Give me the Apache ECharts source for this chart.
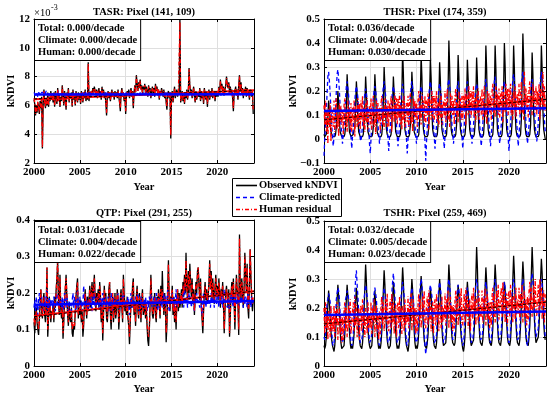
<!DOCTYPE html>
<html><head><meta charset="utf-8">
<script src="https://cdn.jsdelivr.net/npm/echarts@6/dist/echarts.min.js"></script>
<style>html,body{margin:0;padding:0;background:#fff}#c{width:550px;height:397px}</style>
</head><body><div id="c"></div><script>
// ---------- data (monthly, Jan 2000 .. Dec 2023) ----------
const startYear = 2000, endYear = 2024;
const xTicks = [2000, 2005, 2010, 2015, 2020];
const panelNames = ['TASR: Pixel (141, 109)', 'THSR: Pixel (174, 359)', 'QTP: Pixel (291, 255)', 'TSHR: Pixel (259, 469)'];
const seriesNames = ['Observed kNDVI', 'Climate-predicted', 'Human residual'];
const totalRates = ['0.000', '0.036', '0.031', '0.032'];
const climateRates = ['0.000', '0.004', '0.004', '0.005'];
const humanRates = ['0.000', '0.030', '0.022', '0.023'];
// trend line end values [2000, 2024]
const trendTotal = [[6.45, 7.05], [.08, .165], [.135, .205], [.145, .22]];
const trendHuman = [[6.42, 7.05], [.08, .165], [.137, .205], [.145, .222]];
const trendClimate = [[6.75, 6.78], [.117, .128], [.168, .178], [.176, .188]];

// TASR values in units of 1e-3
const tasrObs = [
6.4,6.1,5.3,6.0,5.5,6.2,5.9,5.4,6.3,5.8,6.6,3.0,
6.0,7.1,6.2,5.8,6.5,6.0,6.9,5.9,6.6,6.3,7.0,6.4,
6.8,6.2,6.9,5.9,7.0,6.5,6.1,7.2,6.3,6.8,5.9,6.6,
6.3,7.4,6.7,6.0,7.0,6.4,5.7,6.9,6.5,7.2,6.2,6.8,
6.5,6.9,5.9,7.1,6.4,6.8,6.0,7.0,6.6,6.2,6.9,6.4,
6.8,6.1,7.0,6.6,6.2,6.9,6.5,7.1,6.3,6.8,6.4,9.0,
6.3,6.9,6.6,7.0,6.8,7.2,6.9,7.3,7.0,6.7,7.1,6.5,
6.9,7.2,6.6,7.0,6.4,7.3,6.8,7.1,6.5,6.9,6.2,5.3,
6.6,7.0,6.5,6.9,6.3,6.8,7.1,6.6,6.9,6.4,7.0,6.7,
6.9,6.5,7.1,6.6,6.2,5.6,6.8,7.2,6.6,6.9,6.3,6.7,
5.4,6.6,7.0,6.7,7.1,6.5,6.9,7.2,6.6,7.0,5.8,6.9,
7.4,6.9,8.1,7.5,7.0,7.6,7.2,7.8,7.1,7.4,6.8,7.3,
7.1,7.5,6.8,7.3,7.0,6.6,7.4,6.9,7.2,6.5,7.0,7.3,
6.8,7.2,6.6,7.5,7.0,7.3,6.7,7.1,6.4,7.0,6.8,7.2,
6.9,6.6,7.1,6.5,6.9,6.2,5.7,6.8,7.0,6.5,6.9,3.7,
6.6,7.0,6.2,6.8,7.3,6.5,6.9,7.1,6.6,7.0,6.8,12.0,
6.2,6.6,7.0,6.3,6.8,6.1,6.9,6.5,7.1,6.4,6.9,8.6,
7.4,6.8,7.1,6.5,6.9,7.3,6.6,6.2,7.0,6.4,6.8,6.9,
6.6,7.2,6.3,7.0,6.5,6.8,6.1,7.2,6.7,6.4,6.9,5.9,
6.8,7.1,6.4,6.9,6.6,7.2,6.5,6.8,7.0,6.3,6.9,6.6,
7.0,6.6,7.3,6.8,7.8,7.2,7.5,6.9,7.3,6.7,7.1,7.4,
8.0,7.5,7.2,7.6,6.9,7.3,6.8,7.1,6.5,5.6,6.8,7.0,
7.3,6.7,7.1,6.4,7.4,8.1,7.0,7.6,6.8,7.2,6.5,7.1,
6.9,7.3,6.6,7.2,6.8,7.0,6.4,7.1,6.9,6.6,7.0,5.4];
const tasrClim = [
6.9,6.8,6.7,6.9,6.8,6.6,6.9,7.0,6.8,6.7,6.9,6.8,
6.8,6.9,6.7,6.8,7.0,6.8,6.7,6.9,6.8,6.6,6.8,6.9,
6.7,6.8,6.9,6.7,6.8,6.9,6.7,6.8,7.0,6.8,6.7,6.8,
6.8,6.7,6.9,6.8,6.6,6.8,6.9,6.7,6.8,6.9,6.7,6.8,
6.9,6.8,6.7,6.9,6.8,6.7,6.8,6.9,6.7,6.8,6.9,6.7,
6.8,6.9,6.7,6.8,6.9,6.7,6.8,6.7,6.9,6.8,6.7,6.9,
6.7,6.8,6.9,6.7,6.8,6.9,6.8,6.7,6.8,6.9,6.7,6.8,
6.8,6.7,6.8,6.9,6.7,6.8,6.9,6.8,6.7,6.8,6.9,6.7,
6.9,6.7,6.8,6.8,6.9,6.7,6.8,6.9,6.7,6.8,6.8,6.9,
6.7,6.8,6.9,6.7,6.8,6.8,6.9,6.7,6.8,6.9,6.7,6.8,
6.8,6.9,6.7,6.8,6.7,6.9,6.8,6.8,6.9,6.7,6.8,6.7,
6.9,6.8,6.8,6.7,6.9,6.8,6.7,6.9,6.8,6.8,6.7,6.9,
6.8,6.7,6.9,6.8,6.8,6.9,6.7,6.8,6.9,6.7,6.8,6.8,
6.7,6.9,6.8,6.7,6.9,6.8,6.8,6.7,6.9,6.8,6.7,6.9,
6.8,6.8,6.7,6.9,6.8,6.7,6.9,6.8,6.8,6.7,6.9,6.8,
6.9,6.7,6.8,6.8,6.9,6.7,6.8,6.9,6.7,6.8,6.8,6.9,
6.7,6.8,6.9,6.8,6.7,6.9,6.8,6.7,6.8,6.9,6.8,6.7,
6.8,6.9,6.7,6.8,6.9,6.8,6.7,6.8,6.9,6.7,6.8,6.8,
6.9,6.8,6.8,6.7,6.8,6.9,6.7,6.8,6.8,6.9,6.7,6.8,
6.7,6.8,6.9,6.8,6.7,6.8,6.9,6.7,6.8,6.8,6.9,6.7,
6.8,6.7,6.8,6.9,6.8,6.7,6.8,6.9,6.7,6.8,6.9,6.8,
6.9,6.8,6.7,6.8,6.9,6.8,6.7,6.8,6.9,6.7,6.8,6.8,
6.8,6.9,6.8,6.7,6.8,6.9,6.8,6.7,6.8,6.9,6.7,6.8,
6.7,6.8,6.9,6.8,6.7,6.8,6.9,6.8,6.7,6.8,6.9,6.8];
const tasrHum = [
6.5,6.2,5.4,6.0,5.6,6.3,5.9,5.5,6.2,5.9,6.5,3.1,
6.1,7.0,6.2,5.9,6.4,6.1,6.8,6.0,6.6,6.4,6.9,6.4,
6.8,6.3,6.8,6.0,6.9,6.5,6.2,7.1,6.3,6.7,6.0,6.6,
6.4,7.3,6.7,6.1,6.9,6.4,5.8,6.9,6.5,7.1,6.3,6.7,
6.5,6.8,6.0,7.0,6.5,6.8,6.1,6.9,6.6,6.3,6.8,6.5,
6.8,6.2,6.9,6.6,6.3,6.9,6.5,7.0,6.4,6.8,6.5,8.9,
6.4,6.8,6.6,7.0,6.8,7.1,6.9,7.2,7.0,6.7,7.0,6.6,
6.9,7.1,6.7,7.0,6.5,7.2,6.8,7.0,6.6,6.9,6.3,5.5,
6.6,6.9,6.6,6.9,6.4,6.8,7.0,6.7,6.9,6.5,6.9,6.7,
6.9,6.6,7.0,6.7,6.3,5.8,6.8,7.1,6.7,6.9,6.4,6.7,
5.6,6.7,6.9,6.8,7.0,6.6,6.9,7.1,6.7,7.0,6.0,6.9,
7.3,6.9,8.0,7.4,7.0,7.5,7.2,7.7,7.1,7.3,6.9,7.2,
7.1,7.4,6.9,7.2,7.0,6.7,7.3,6.9,7.1,6.6,7.0,7.2,
6.8,7.1,6.7,7.4,7.0,7.2,6.8,7.1,6.5,7.0,6.8,7.1,
6.9,6.7,7.0,6.6,6.9,6.3,5.9,6.8,6.9,6.6,6.9,3.9,
6.6,6.9,6.3,6.8,7.2,6.6,6.9,7.0,6.7,6.9,6.8,11.8,
6.3,6.7,6.9,6.4,6.8,6.2,6.9,6.6,7.0,6.5,6.9,8.5,
7.3,6.8,7.0,6.6,6.9,7.2,6.7,6.3,6.9,6.5,6.8,6.9,
6.7,7.1,6.4,6.9,6.6,6.8,6.2,7.1,6.7,6.5,6.8,6.1,
6.8,7.0,6.5,6.9,6.7,7.1,6.6,6.8,6.9,6.4,6.9,6.7,
7.0,6.7,7.2,6.8,7.7,7.1,7.4,6.9,7.2,6.8,7.0,7.3,
7.9,7.4,7.2,7.5,6.9,7.2,6.8,7.0,6.6,5.8,6.8,7.0,
7.2,6.8,7.0,6.5,7.3,8.0,7.0,7.5,6.8,7.1,6.6,7.1,
6.9,7.2,6.7,7.1,6.8,7.0,6.5,7.0,6.9,6.7,7.0,5.6];

const thsrObs = [
.02,.01,.01,.02,.04,.09,.16,.12,.06,.03,.02,.01,
.01,.01,.01,.02,.05,.11,.20,.15,.07,.03,.02,.01,
.01,.01,.01,.02,.05,.14,.27,.20,.09,.03,.02,.01,
.01,.01,.02,.02,.05,.13,.24,.18,.08,.03,.02,.01,
.01,.01,.01,.02,.06,.14,.26,.19,.08,.03,.02,.01,
.01,.01,.01,.02,.05,.15,.27,.20,.09,.03,.02,.01,
.01,.01,.01,.02,.06,.16,.30,.22,.10,.04,.02,.01,
.01,.01,.01,.02,.06,.14,.26,.19,.09,.03,.02,.01,
.01,.01,.01,.02,.06,.19,.37,.27,.12,.04,.02,.01,
.01,.01,.01,.02,.06,.15,.28,.21,.09,.03,.02,.01,
.01,.01,.01,.02,.07,.18,.35,.26,.11,.04,.02,.01,
.01,.01,.01,.02,.06,.18,.34,.25,.11,.04,.02,.01,
.01,.01,.01,.02,.06,.17,.32,.24,.10,.04,.02,.01,
.01,.01,.01,.02,.07,.21,.41,.30,.13,.04,.02,.01,
.01,.01,.01,.02,.06,.18,.35,.26,.11,.04,.02,.01,
.01,.01,.01,.02,.06,.17,.33,.25,.11,.04,.02,.01,
.01,.01,.01,.02,.06,.18,.34,.25,.11,.04,.02,.01,
.01,.01,.01,.02,.07,.20,.39,.29,.12,.04,.02,.01,
.01,.01,.01,.02,.07,.20,.39,.29,.13,.04,.02,.01,
.01,.01,.01,.02,.07,.21,.40,.30,.13,.04,.02,.01,
.01,.01,.01,.02,.07,.20,.39,.29,.12,.04,.02,.01,
.01,.01,.01,.02,.08,.23,.44,.33,.14,.05,.02,.01,
.01,.01,.01,.02,.06,.19,.36,.27,.11,.04,.02,.01,
.01,.01,.01,.02,.07,.20,.39,.29,.12,.04,.02,.00];
const thsrClim = [
-.07,.00,.06,.12,.19,.26,.28,.24,.19,.12,.06,.01,
-.03,.01,.05,.12,.20,.27,.29,.25,.20,.13,.06,.02,
-.02,.02,.05,.11,.17,.22,.24,.21,.18,.12,.06,.01,
-.04,.01,.05,.10,.16,.20,.22,.20,.17,.11,.05,.00,
-.01,.02,.06,.11,.16,.19,.21,.19,.16,.11,.06,-.02,
-.06,.00,.05,.10,.17,.20,.22,.20,.17,.12,.06,.02,
-.02,.02,.05,.11,.18,.22,.24,.21,.18,.12,.05,.00,
-.05,.01,.05,.10,.17,.20,.22,.20,.17,.11,.06,.01,
-.03,.01,.06,.11,.17,.21,.23,.20,.17,.11,.05,.00,
-.06,.00,.05,.11,.18,.22,.24,.21,.18,.12,.06,.01,
-.02,.02,.06,.11,.17,.20,.22,.20,.17,.11,.05,-.01,
-.09,-.01,.05,.11,.18,.22,.24,.21,.18,.12,.06,.01,
-.04,.01,.06,.11,.17,.21,.23,.21,.18,.12,.06,.01,
-.04,.01,.06,.12,.19,.23,.25,.22,.19,.12,.06,.02,
-.02,.02,.06,.12,.18,.22,.24,.21,.18,.12,.06,.01,
-.04,.01,.06,.12,.18,.22,.24,.22,.18,.12,.06,.02,
-.02,.02,.06,.11,.18,.21,.23,.21,.18,.12,.06,.01,
-.03,.01,.06,.12,.19,.23,.25,.22,.19,.13,.07,.02,
-.03,.01,.06,.12,.19,.24,.26,.23,.19,.13,.06,.01,
-.02,.02,.06,.12,.18,.22,.24,.22,.18,.12,.06,.00,
-.05,.01,.06,.12,.20,.25,.27,.24,.20,.13,.07,.02,
-.03,.02,.07,.13,.20,.26,.28,.25,.20,.13,.07,.02,
-.02,.02,.06,.12,.19,.23,.25,.22,.19,.13,.06,.02,
-.01,.02,.07,.13,.20,.26,.28,.25,.21,.14,.08,.03];
const thsrHum = [
.14,.06,.16,.03,.11,-.02,.13,.05,.15,-.01,.10,.12,
.05,.16,.03,.12,.17,.04,.10,.01,.15,.07,.14,.06,
.12,.02,.14,.17,.05,.11,.03,.16,.08,.13,.04,.15,
.03,.13,.07,.16,.01,.14,.12,.05,.17,.06,.15,.04,
.16,.08,.18,.05,.13,.03,.15,.07,.17,.04,.12,.14,
.06,.17,.04,.13,.18,.05,.11,.02,.16,.08,.15,.07,
.13,.03,.15,.18,.06,.12,.04,.17,.09,.14,.05,.16,
.05,.15,.09,.18,.03,.16,.14,.07,.19,.08,.17,.06,
.17,.09,.19,.06,.14,.04,.16,.08,.18,.05,.13,.15,
.07,.18,.05,.14,.19,.06,.12,.03,.17,.09,.16,.08,
.15,.05,.17,.20,.08,.14,.06,.19,.11,.16,.07,.18,
.06,.16,.10,.19,.04,.17,.15,.08,.20,.09,.18,.07,
.18,.10,.20,.07,.15,.05,.17,.09,.19,.06,.14,.16,
.09,.20,.07,.16,.21,.08,.14,.05,.19,.11,.18,.10,
.16,.06,.18,.21,.09,.15,.07,.20,.12,.17,.08,.19,
.08,.18,.12,.21,.06,.19,.17,.10,.22,.11,.20,.09,
.20,.12,.22,.09,.17,.07,.19,.11,.21,.08,.16,.18,
.10,.21,.08,.17,.22,.09,.15,.06,.20,.12,.19,.11,
.18,.08,.20,.23,.11,.17,.09,.22,.14,.19,.10,.21,
.09,.19,.13,.22,.07,.20,.18,.11,.23,.12,.21,.10,
.21,.13,.23,.10,.18,.08,.20,.12,.22,.09,.17,.19,
.12,.23,.10,.19,.24,.11,.17,.08,.28,.14,.21,.13,
.19,.09,.21,.24,.12,.18,.10,.23,.15,.20,.11,.22,
.10,.20,.14,.23,.08,.21,.19,.12,.28,.13,.22,.11];

const qtpObs = [
.12,.09,.14,.16,.12,.10,.085,.13,.17,.21,.15,.13,
.18,.20,.14,.12,.17,.27,.08,.13,.19,.16,.12,.15,
.14,.17,.12,.19,.16,.21,.24,.29,.18,.14,.25,.16,
.13,.17,.075,.12,.18,.21,.25,.19,.14,.11,.17,.13,
.12,.16,.09,.08,.11,.10,.15,.19,.22,.24,.13,.16,
.14,.18,.12,.15,.08,.11,.17,.21,.16,.13,.19,.15,
.18,.22,.16,.20,.23,.18,.21,.25,.19,.15,.20,.17,
.21,.16,.23,.19,.12,.17,.07,.14,.22,.18,.20,.13,
.12,.16,.21,.23,.14,.10,.17,.19,.12,.15,.20,.13,
.15,.21,.18,.10,.14,.19,.21,.16,.12,.25,.20,.15,
.17,.14,.19,.13,.11,.06,.12,.18,.16,.22,.24,.14,
.16,.11,.19,.22,.15,.13,.20,.17,.12,.18,.21,.14,
.15,.18,.13,.16,.11,.07,.055,.10,.17,.25,.19,.14,
.13,.17,.20,.14,.12,.19,.16,.21,.18,.13,.22,.17,
.26,.18,.14,.20,.17,.065,.11,.21,.29,.18,.15,.19,
.17,.22,.14,.19,.12,.16,.10,.18,.21,.15,.20,.16,
.18,.21,.16,.23,.19,.25,.20,.31,.22,.18,.26,.20,
.28,.23,.19,.24,.17,.21,.14,.19,.23,.20,.26,.27,
.22,.18,.24,.16,.13,.09,.15,.20,.23,.18,.21,.17,
.19,.23,.29,.21,.26,.18,.24,.20,.17,.22,.25,.19,
.22,.18,.24,.20,.16,.21,.19,.23,.17,.09,.15,.20,
.22,.19,.16,.21,.08,.14,.20,.23,.18,.24,.17,.10,
.19,.25,.21,.17,.085,.36,.22,.18,.24,.20,.16,.21,
.31,.25,.20,.28,.16,.13,.22,.32,.24,.18,.15,.18];
const qtpClim = [
.16,.18,.15,.19,.17,.14,.18,.20,.16,.17,.19,.15,
.17,.15,.19,.16,.18,.21,.15,.17,.19,.16,.18,.17,
.18,.16,.19,.17,.15,.18,.20,.17,.16,.19,.17,.18,
.16,.19,.15,.17,.20,.18,.16,.19,.17,.15,.18,.17,
.17,.15,.18,.20,.16,.19,.17,.15,.18,.21,.16,.17,
.19,.16,.18,.15,.17,.22,.18,.16,.19,.17,.15,.18,
.16,.18,.20,.17,.15,.19,.17,.21,.16,.18,.17,.19,
.18,.16,.17,.19,.15,.18,.20,.16,.17,.19,.16,.18,
.17,.19,.15,.18,.16,.20,.17,.15,.19,.17,.18,.16,
.16,.18,.20,.17,.15,.18,.16,.19,.17,.20,.16,.18,
.18,.16,.17,.19,.16,.14,.18,.20,.17,.16,.19,.17,
.17,.19,.16,.18,.20,.17,.15,.18,.19,.16,.18,.17,
.18,.16,.19,.17,.15,.18,.16,.19,.17,.20,.16,.18,
.17,.19,.16,.18,.20,.17,.15,.19,.18,.16,.19,.17,
.16,.18,.20,.17,.19,.16,.18,.21,.17,.15,.18,.19,
.18,.20,.17,.19,.15,.18,.21,.17,.16,.19,.18,.17,
.19,.17,.18,.20,.16,.22,.18,.17,.19,.16,.18,.20,
.17,.19,.16,.18,.20,.17,.15,.19,.18,.20,.17,.18,
.18,.16,.19,.17,.14,.18,.20,.17,.19,.16,.18,.17,
.19,.17,.18,.16,.20,.18,.17,.19,.16,.18,.20,.17,
.17,.19,.16,.20,.18,.17,.19,.16,.18,.21,.17,.18,
.18,.16,.19,.17,.15,.19,.18,.20,.17,.16,.19,.18,
.19,.17,.18,.20,.16,.18,.19,.17,.20,.18,.16,.19,
.17,.19,.18,.16,.20,.17,.19,.18,.16,.19,.17,.18];
const qtpHum = [
.13,.11,.13,.15,.13,.12,.10,.12,.16,.21,.16,.14,
.17,.19,.15,.14,.16,.27,.10,.14,.18,.17,.13,.14,
.15,.16,.13,.18,.17,.20,.25,.29,.17,.15,.24,.17,
.14,.16,.09,.13,.17,.22,.24,.20,.15,.12,.16,.14,
.13,.15,.10,.10,.12,.11,.14,.20,.21,.23,.14,.15,
.15,.17,.13,.14,.10,.12,.16,.20,.17,.14,.18,.16,
.17,.21,.17,.19,.22,.19,.20,.24,.20,.16,.19,.18,
.20,.17,.22,.20,.13,.16,.09,.15,.21,.19,.19,.14,
.13,.17,.20,.23,.15,.12,.16,.20,.13,.16,.19,.14,
.16,.20,.19,.12,.15,.18,.20,.17,.13,.24,.19,.16,
.17,.15,.18,.14,.12,.08,.13,.17,.17,.21,.23,.15,
.17,.12,.18,.21,.16,.14,.19,.18,.13,.17,.20,.15,
.16,.17,.14,.17,.12,.09,.08,.11,.16,.24,.18,.15,
.14,.16,.19,.15,.13,.18,.17,.20,.19,.14,.21,.18,
.21,.17,.15,.19,.18,.09,.12,.20,.28,.19,.16,.18,
.18,.21,.15,.18,.13,.17,.12,.17,.21,.16,.19,.17,
.19,.20,.17,.22,.20,.24,.21,.29,.21,.19,.25,.21,
.26,.22,.20,.23,.18,.20,.15,.20,.22,.21,.25,.27,
.21,.19,.23,.17,.14,.11,.16,.19,.22,.19,.20,.18,
.20,.22,.28,.21,.25,.19,.23,.21,.18,.21,.24,.20,
.21,.19,.23,.21,.17,.20,.20,.22,.18,.10,.16,.19,
.21,.20,.17,.20,.09,.15,.19,.22,.19,.23,.18,.12,
.20,.24,.22,.18,.10,.35,.23,.19,.23,.21,.17,.22,
.30,.26,.21,.27,.18,.15,.23,.32,.25,.19,.17,.19];

const tshrObs = [
.07,.06,.07,.10,.16,.21,.26,.22,.17,.12,.09,.07,
.06,.05,.07,.11,.17,.23,.28,.24,.18,.12,.08,.06,
.06,.06,.07,.11,.17,.23,.28,.24,.18,.12,.08,.06,
.07,.06,.08,.11,.17,.22,.27,.23,.17,.12,.09,.07,
.07,.06,.08,.12,.19,.27,.35,.29,.20,.13,.09,.07,
.06,.06,.07,.11,.16,.21,.26,.22,.17,.12,.08,.06,
.07,.06,.08,.12,.18,.26,.33,.28,.19,.13,.09,.07,
.06,.06,.07,.11,.17,.23,.29,.25,.18,.12,.08,.06,
.07,.06,.08,.12,.19,.27,.34,.29,.20,.13,.09,.07,
.06,.05,.07,.11,.17,.24,.30,.26,.18,.12,.08,.06,
.07,.06,.08,.12,.18,.25,.31,.27,.19,.13,.09,.07,
.07,.06,.08,.11,.17,.22,.27,.24,.18,.13,.09,.07,
.07,.06,.08,.12,.18,.24,.30,.26,.19,.13,.09,.07,
.07,.07,.08,.12,.19,.27,.35,.30,.20,.14,.10,.08,
.08,.07,.08,.12,.18,.23,.28,.25,.19,.14,.10,.08,
.06,.05,.07,.11,.18,.24,.29,.25,.19,.13,.09,.07,
.07,.07,.09,.13,.21,.31,.41,.34,.22,.15,.10,.08,
.08,.07,.09,.13,.20,.27,.34,.29,.21,.15,.10,.08,
.08,.07,.09,.13,.20,.28,.35,.30,.21,.15,.10,.08,
.08,.07,.09,.13,.19,.24,.29,.26,.20,.15,.10,.08,
.08,.07,.09,.14,.21,.30,.38,.32,.22,.15,.10,.08,
.08,.07,.09,.14,.21,.29,.36,.31,.22,.15,.10,.08,
.08,.07,.10,.14,.22,.32,.41,.34,.23,.16,.11,.08,
.08,.08,.10,.14,.21,.30,.37,.32,.22,.15,.11,.09];
const tshrClim = [
.10,.09,.11,.16,.22,.23,.25,.24,.22,.17,.12,.08,
.07,.08,.11,.17,.23,.25,.27,.26,.23,.18,.12,.08,
.08,.09,.11,.17,.23,.24,.26,.25,.23,.18,.12,.08,
.07,.08,.11,.18,.25,.30,.33,.28,.24,.18,.12,.08,
.08,.09,.11,.17,.23,.26,.28,.26,.24,.18,.12,.08,
.08,.09,.11,.17,.23,.25,.27,.25,.23,.18,.12,.08,
.07,.08,.11,.17,.23,.25,.27,.25,.23,.18,.12,.08,
.08,.09,.12,.18,.25,.29,.32,.28,.24,.18,.12,.08,
.08,.09,.11,.17,.24,.27,.29,.27,.24,.18,.12,.08,
.07,.08,.11,.17,.23,.25,.27,.25,.23,.18,.12,.08,
.08,.09,.11,.17,.24,.28,.30,.28,.24,.18,.12,.07,
.04,.07,.11,.17,.23,.26,.28,.26,.24,.18,.12,.08,
.08,.09,.11,.17,.24,.27,.29,.27,.24,.18,.12,.08,
.08,.09,.12,.18,.24,.28,.30,.28,.24,.18,.13,.09,
.09,.10,.12,.18,.24,.26,.28,.26,.24,.18,.13,.08,
.07,.08,.11,.17,.23,.25,.27,.26,.23,.18,.12,.08,
.08,.09,.12,.18,.24,.28,.30,.28,.24,.19,.13,.09,
.09,.10,.12,.18,.24,.27,.29,.27,.24,.19,.13,.09,
.08,.09,.12,.18,.25,.28,.30,.28,.25,.19,.13,.09,
.09,.10,.12,.18,.24,.27,.29,.27,.24,.19,.13,.09,
.08,.09,.12,.18,.25,.28,.30,.28,.25,.19,.13,.09,
.09,.10,.12,.18,.25,.28,.30,.28,.25,.19,.13,.08,
.07,.09,.12,.19,.26,.30,.32,.29,.25,.19,.13,.10,
.10,.10,.13,.19,.25,.28,.30,.28,.25,.19,.14,.10];
const tshrHum = [
.20,.11,.22,.13,.18,.09,.19,.16,.10,.21,.12,.17,
.12,.21,.10,.19,.14,.22,.09,.18,.20,.11,.17,.08,
.17,.09,.19,.22,.12,.20,.10,.14,.21,.13,.23,.11,
.11,.19,.22,.12,.24,.14,.21,.10,.18,.20,.09,.19,
.21,.12,.23,.14,.19,.10,.20,.17,.11,.22,.13,.18,
.13,.22,.11,.20,.15,.23,.10,.19,.21,.12,.18,.09,
.19,.11,.21,.24,.14,.22,.12,.16,.23,.15,.25,.13,
.12,.20,.23,.13,.25,.15,.22,.11,.19,.21,.10,.20,
.22,.13,.24,.15,.20,.11,.21,.18,.12,.23,.14,.19,
.15,.24,.13,.22,.17,.25,.12,.21,.23,.14,.20,.11,
.20,.12,.22,.25,.15,.23,.13,.17,.24,.16,.26,.14,
.13,.21,.24,.14,.26,.16,.23,.12,.20,.22,.11,.21,
.23,.14,.25,.16,.21,.12,.22,.19,.13,.24,.15,.20,
.16,.25,.14,.23,.18,.26,.13,.22,.24,.15,.21,.12,
.21,.13,.23,.26,.16,.24,.14,.18,.25,.17,.27,.15,
.14,.22,.25,.15,.27,.17,.24,.13,.21,.23,.12,.22,
.25,.16,.27,.18,.23,.14,.24,.21,.15,.26,.17,.22,
.17,.26,.15,.24,.19,.27,.14,.23,.25,.16,.22,.13,
.22,.14,.24,.27,.17,.25,.15,.19,.26,.18,.28,.16,
.16,.24,.27,.17,.29,.19,.26,.15,.23,.25,.14,.24,
.26,.17,.28,.19,.24,.15,.25,.22,.16,.27,.18,.23,
.18,.27,.16,.25,.20,.28,.15,.24,.26,.17,.23,.14,
.24,.16,.26,.29,.19,.27,.17,.21,.28,.20,.30,.18,
.17,.25,.28,.18,.30,.20,.27,.16,.24,.26,.15,.25];

const panelObs = [tasrObs, thsrObs, qtpObs, tshrObs];
const panelClim = [tasrClim, thsrClim, qtpClim, tshrClim];
const panelHum = [tasrHum, thsrHum, qtpHum, tshrHum];

// ---------- layout / style ----------
const FONT = '"Liberation Serif","Times New Roman",serif';
const grids = [
  {left: 34, top: 19, width: 220, height: 144},
  {left: 324, top: 19, width: 222, height: 144},
  {left: 34, top: 220, width: 220, height: 146},
  {left: 324, top: 221, width: 222, height: 145}];
const yCfg = [
  {min: 2, max: 12, interval: 2},
  {min: -0.1, max: 0.5, interval: 0.1},
  {min: 0, max: 0.4, interval: 0.1},
  {min: 0, max: 0.5, interval: 0.1}];

function yFmt(p) {
  return function (v) {
    if (p === 0) return String(Math.round(v));
    if (Math.abs(v) < 1e-9) return '0';
    return (Math.round(v * 10) / 10).toFixed(1).replace('-', '\u2212');
  };
}
const toPts = vals => vals.map((v, i) => [startYear + i / 12, v]);
const trendPts = t => [[startYear, t[0]], [endYear, t[1]]];

const xAxes = [], yAxes = [], series = [];
const lbl = {fontFamily: FONT, fontWeight: 'bold', fontSize: 11, color: '#000'};
for (let p = 0; p < 4; p++) {
  xAxes.push({type: 'value', gridIndex: p, min: startYear, max: endYear, interval: 5,
    axisLine: {show: true, onZero: false, lineStyle: {color: '#000', width: 1}},
    axisTick: {show: true, inside: true, length: 3, lineStyle: {color: '#000'}},
    axisLabel: Object.assign({margin: 4, showMaxLabel: false,
      formatter: v => (xTicks.indexOf(v) >= 0 ? String(v) : '')}, lbl),
    splitLine: {show: true, lineStyle: {color: '#dfdfdf', width: 1}}});
  yAxes.push({type: 'value', gridIndex: p, min: yCfg[p].min, max: yCfg[p].max, interval: yCfg[p].interval,
    axisLine: {show: true, onZero: false, lineStyle: {color: '#000', width: 1}},
    axisTick: {show: true, inside: true, length: 3, lineStyle: {color: '#000'}},
    axisLabel: Object.assign({margin: 4, formatter: yFmt(p)}, lbl),
    splitLine: {show: true, lineStyle: {color: '#dfdfdf', width: 1}}});
}
for (let p = 0; p < 4; p++) {
  xAxes.push({type: 'value', gridIndex: p, position: 'top', min: startYear, max: endYear, interval: 5,
    axisLine: {show: true, onZero: false, lineStyle: {color: '#000', width: 1}},
    axisTick: {show: true, inside: true, length: 3, lineStyle: {color: '#000'}},
    axisLabel: {show: false}, splitLine: {show: false}});
  yAxes.push({type: 'value', gridIndex: p, position: 'right', min: yCfg[p].min, max: yCfg[p].max, interval: yCfg[p].interval,
    axisLine: {show: true, onZero: false, lineStyle: {color: '#000', width: 1}},
    axisTick: {show: true, inside: true, length: 3, lineStyle: {color: '#000'}},
    axisLabel: {show: false}, splitLine: {show: false}});
}
for (let p = 0; p < 4; p++) {
  const base = {type: 'line', xAxisIndex: p, yAxisIndex: p, showSymbol: false, symbol: 'none',
    silent: true, animation: false};
  series.push(Object.assign({}, base, {name: seriesNames[0], data: toPts(panelObs[p]), z: 2,
    lineStyle: {color: '#000', width: 1.3}}));
  series.push(Object.assign({}, base, {name: seriesNames[1], data: toPts(panelClim[p]), z: 3,
    lineStyle: {color: '#0000ff', width: 1.3, type: [4, 3]}}));
  series.push(Object.assign({}, base, {name: seriesNames[2], data: toPts(panelHum[p]), z: 4,
    lineStyle: {color: '#ff0000', width: 1.3, type: [4, 2, 1, 2]}}));
  series.push(Object.assign({}, base, {name: 'human trend', data: trendPts(trendHuman[p]), z: 5,
    lineStyle: {color: '#ff0000', width: 2}}));
  series.push(Object.assign({}, base, {name: 'total trend', data: trendPts(trendTotal[p]), z: 6,
    lineStyle: {color: '#000', width: 1, type: [3, 2]}}));
  series.push(Object.assign({}, base, {name: 'climate trend', data: trendPts(trendClimate[p]), z: 7,
    lineStyle: {color: '#0000ff', width: 2.5}}));
}

// ---------- text & legend graphics ----------
const g = [];
const titlePos = [[144, 12], [435, 12], [144, 213], [435, 213]];
const statPos = [[35, 20], [325, 20], [35, 222], [325, 222]];
const yNamePos = [[11, 91], [293, 91], [11, 293], [293, 294]];
const xNamePos = [[144, 187], [435, 187], [144, 389], [435, 389]];
function txt(x, y, text, extra) {
  return Object.assign({type: 'text', x: x, y: y, z: 100, silent: true,
    style: {text: text, font: 'bold 10.5px ' + FONT, fill: '#000',
      align: 'center', verticalAlign: 'middle', textAlign: 'center', textVerticalAlign: 'middle'}}, extra || {});
}
for (let p = 0; p < 4; p++) {
  g.push(txt(titlePos[p][0], titlePos[p][1], panelNames[p]));
  g.push({type: 'text', x: statPos[p][0], y: statPos[p][1], z: 100, silent: true,
    style: {text: 'Total: ' + totalRates[p] + '/decade\nClimate: ' + climateRates[p] + '/decade\nHuman: ' + humanRates[p] + '/decade',
      font: 'bold 10.5px ' + FONT, fill: '#000', lineHeight: 12.3,
      align: 'left', verticalAlign: 'top', textAlign: 'left', textVerticalAlign: 'top',
      backgroundColor: '#fff', borderColor: '#000', borderWidth: 1, padding: [2, 3, 1, 3]}});
  g.push(Object.assign(txt(yNamePos[p][0], yNamePos[p][1], 'kNDVI'), {rotation: Math.PI / 2}));
  g.push(txt(xNamePos[p][0], xNamePos[p][1], 'Year'));
}
// x10^-3 exponent label for TASR
g.push({type: 'text', x: 34, y: 13, z: 100, silent: true,
  style: {text: '\u00d710', font: '10.5px ' + FONT, fill: '#000', align: 'left', verticalAlign: 'middle', textAlign: 'left', textVerticalAlign: 'middle'}});
g.push({type: 'text', x: 51, y: 8, z: 100, silent: true,
  style: {text: '-3', font: '8px ' + FONT, fill: '#000', align: 'left', verticalAlign: 'middle', textAlign: 'left', textVerticalAlign: 'middle'}});
// legend
const legX = 232, legY = 178, legRowY = [185.5, 197.5, 209.5];
const legColors = ['#000000', '#0000ff', '#ff0000'];
const legDash = [null, [4, 3], [4, 2, 1, 2]];
g.push({type: 'rect', z: 100, silent: true, shape: {x: legX + 0.5, y: legY + 0.5, width: 109, height: 38},
  style: {fill: '#fff', stroke: '#000', lineWidth: 1}});
for (let i = 0; i < 3; i++) {
  const st = {stroke: legColors[i], fill: null, lineWidth: 1.6};
  if (legDash[i]) st.lineDash = legDash[i];
  g.push({type: 'line', z: 101, silent: true, shape: {x1: legX + 4, y1: legRowY[i], x2: legX + 25, y2: legRowY[i]},
    style: st});
  g.push({type: 'text', x: legX + 27, y: legRowY[i], z: 101, silent: true,
    style: {text: seriesNames[i], font: 'bold 10.5px ' + FONT, fill: '#000',
      align: 'left', verticalAlign: 'middle', textAlign: 'left', textVerticalAlign: 'middle'}});
}

const chart = echarts.init(document.getElementById('c'), null, {renderer: 'canvas'});
chart.setOption({
  animation: false,
  backgroundColor: '#fff',
  grid: grids.map(gr => Object.assign({show: false, containLabel: false}, gr)),
  xAxis: xAxes,
  yAxis: yAxes,
  series: series,
  graphic: {elements: g}
});
</script></body></html>
